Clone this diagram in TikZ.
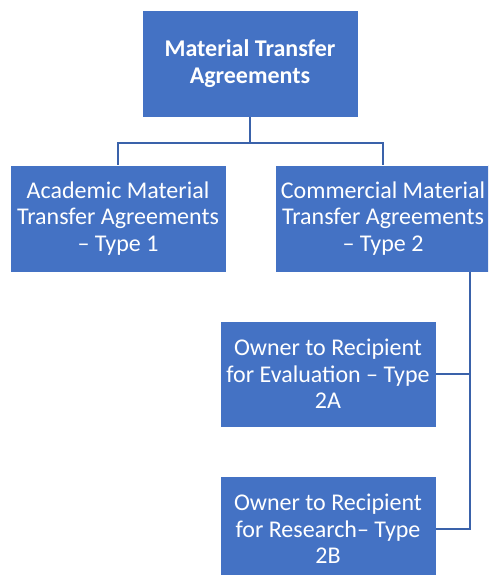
\documentclass[tikz,border=0pt]{standalone}
\usepackage{fontspec}
\setmainfont{Carlito}
\definecolor{boxblue}{HTML}{4472C4}
\definecolor{lineblue}{HTML}{3A62AA}
\begin{document}
\begin{tikzpicture}[x=1pt,y=-1pt,
  box/.style={fill=boxblue,draw=white,line width=0.6pt,text=white,align=center,
    minimum width=216pt,minimum height=107pt,inner sep=0pt,
    font=\fontsize{24}{26.7}\selectfont},
  conn/.style={draw=lineblue,line width=2.4pt}]
\useasboundingbox (0,0) rectangle (488,575);
\clip (0,0) rectangle (488,575);
\node[box,font=\fontsize{24}{26.7}\selectfont\bfseries] (top) at (250,63.5) {Material Transfer\\Agreements};
\node[box] (left) at (118,218.5) {Academic Material\\Transfer Agreements\\– Type 1};
\node[box] (right) at (383,218.5) {Commercial Material\\Transfer Agreements\\– Type 2};
\node[box,minimum height=106pt] (a2) at (328,374) {Owner to Recipient\\for Evaluation – Type\\2A};
\node[box,minimum height=106pt] (b2) at (328,529) {Owner to Recipient\\for Research– Type\\2B};
\coordinate (bus) at (0,143);
\coordinate (vx) at (470,0);
\draw[conn] (top.south) -- (top.south |- bus) -| (left.north);
\draw[conn] (top.south |- bus) -| (right.north);
\draw[conn] (right.south -| vx) |- (a2.east);
\draw[conn] (right.south -| vx) |- (b2.east);
\end{tikzpicture}
\end{document}
